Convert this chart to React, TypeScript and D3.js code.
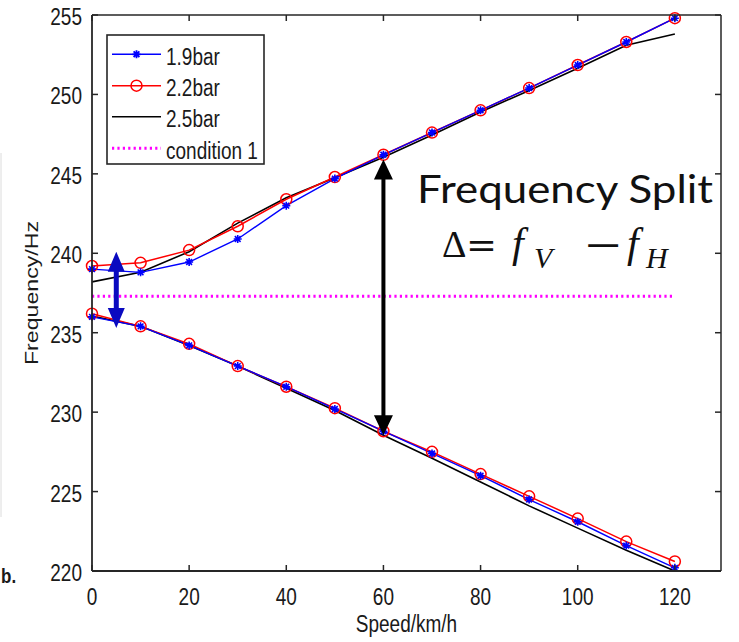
import React from "react";
import * as d3 from "d3";

const speeds = [0, 10, 20, 30, 40, 50, 60, 70, 80, 90, 100, 110, 120];
const upper19 = [239.0, 238.8, 239.45, 240.9, 243.0, 244.7, 246.2, 247.6, 249.0, 250.4, 251.85, 253.3, 254.8];
const upper22 = [239.2, 239.4, 240.2, 241.7, 243.4, 244.8, 246.2, 247.6, 249.0, 250.4, 251.85, 253.3, 254.8];
const upper25 = [238.2, 238.8, 240.1, 241.9, 243.5, 244.75, 246.05, 247.45, 248.9, 250.25, 251.65, 253.1, 253.8];
const lower19 = [236.0, 235.4, 234.2, 232.9, 231.6, 230.2, 228.8, 227.4, 226.0, 224.5, 223.1, 221.6, 220.2];
const lower22 = [236.2, 235.4, 234.3, 232.9, 231.6, 230.25, 228.8, 227.5, 226.1, 224.7, 223.3, 221.85, 220.6];
const lower25 = [236.05, 235.4, 234.2, 232.9, 231.5, 230.1, 228.55, 227.1, 225.6, 224.1, 222.7, 221.3, 220.0];
const conditionSpeeds = [0, 120];
const condition1 = [237.3, 237.3];

const xTicks = [0, 20, 40, 60, 80, 100, 120];
const yTicks = [220, 225, 230, 235, 240, 245, 250, 255];
const legendLabels = ["1.9bar", "2.2bar", "2.5bar", "condition 1"];

// annotation arrows (data coordinates)
const blueArrow = { speed: 5, from: 240.1, to: 235.3 };
const blackArrow = { speed: 60, from: 245.9, to: 228.55 };

const W = 739;
const H = 642;
const x = d3.scaleLinear().domain([0, 129.5]).range([92, 721]);
const y = d3.scaleLinear().domain([220, 255]).range([571, 15]);

const BLUE = "#0000ff";
const RED = "#ff0000";
const MAG = "#ff00ff";
const AX = "#262626";
const FONT = "'Liberation Sans', Arial, sans-serif";
const SY = 1.22;

type Pt = [number, number];
const zip = (xs: number[], ys: number[]): Pt[] => xs.map((s, i) => [s, ys[i]]);
const line = d3
  .line<Pt>()
  .x((d) => x(d[0]))
  .y((d) => y(d[1]));

function starPath(r: number) {
  const a = r * 0.72;
  return `M${-r},0L${r},0M0,${-r}L0,${r}M${-a},${-a}L${a},${a}M${-a},${a}L${a},${-a}`;
}

function DoubleArrow({ cx, y1, y2, shaft, headW, headL, color }: any) {
  const top = Math.min(y1, y2);
  const bot = Math.max(y1, y2);
  const p = [
    [cx, top],
    [cx + headW / 2, top + headL],
    [cx + shaft / 2, top + headL],
    [cx + shaft / 2, bot - headL],
    [cx + headW / 2, bot - headL],
    [cx, bot],
    [cx - headW / 2, bot - headL],
    [cx - shaft / 2, bot - headL],
    [cx - shaft / 2, top + headL],
    [cx - headW / 2, top + headL],
  ];
  return <polygon points={p.map((q) => q.join(",")).join(" ")} fill={color} />;
}

function STxt({ tx, ty, anchor = "start", size = 19, rot = 0, weight = "normal", children }: any) {
  return (
    <g transform={`translate(${tx},${ty}) scale(1,${SY})${rot ? ` rotate(${rot})` : ""}`}>
      <text x={0} y={0} fontSize={size} fontFamily={FONT} textAnchor={anchor} fontWeight={weight} fill="#1a1a1a">
        {children}
      </text>
    </g>
  );
}

export default function App() {
  const u19 = zip(speeds, upper19);
  const u22 = zip(speeds, upper22);
  const u25 = zip(speeds, upper25);
  const l19 = zip(speeds, lower19);
  const l22 = zip(speeds, lower22);
  const l25 = zip(speeds, lower25);
  const cond = zip(conditionSpeeds, condition1);
  const [x0, x1] = x.range();
  const [yb, yt] = y.range();
  const legY = [54.3, 85.7, 116.7, 148.3];

  return (
    <svg width={W} height={H} style={{ position: "absolute", left: 0, top: 0, background: "#fff" }}>
      <rect x={0} y={0} width={W} height={H} fill="#fff" />
      {/* faint crop line */}
      <line x1={1} x2={1} y1={153} y2={517} stroke="#dcdcdc" strokeWidth={1} />
      <STxt tx={1} ty={583} size={17} weight="bold">b.</STxt>

      {/* series */}
      <path d={line(u25) || ""} fill="none" stroke="#000" strokeWidth={1.6} />
      <path d={line(l25) || ""} fill="none" stroke="#000" strokeWidth={1.6} />
      <path d={line(u22) || ""} fill="none" stroke={RED} strokeWidth={1.5} />
      <path d={line(l22) || ""} fill="none" stroke={RED} strokeWidth={1.5} />
      <path d={line(u19) || ""} fill="none" stroke={BLUE} strokeWidth={1.4} />
      <path d={line(l19) || ""} fill="none" stroke={BLUE} strokeWidth={1.4} />
      {[...u22, ...l22].map((d, i) => (
        <circle key={"c" + i} cx={x(d[0])} cy={y(d[1])} r={5.5} fill="none" stroke={RED} strokeWidth={1.5} />
      ))}
      {[...u19, ...l19].map((d, i) => (
        <path key={"s" + i} d={starPath(4)} transform={`translate(${x(d[0])},${y(d[1])})`} stroke={BLUE} strokeWidth={1.6} fill="none" />
      ))}
      <path d={line(cond) || ""} fill="none" stroke={MAG} strokeWidth={3} strokeDasharray="2.2 3.2" />

      {/* axes box */}
      <line x1={x0} x2={x0} y1={yb} y2={yt} stroke={AX} strokeWidth={1.8} />
      <line x1={x1} x2={x1} y1={yb} y2={yt} stroke={AX} strokeWidth={1.5} />
      <line x1={x0} x2={x1} y1={yb} y2={yb} stroke={AX} strokeWidth={1.8} />
      <line x1={x0} x2={x1} y1={yt} y2={yt} stroke={AX} strokeWidth={1.5} />
      {xTicks.map((t) => (
        <g key={"xt" + t}>
          <line x1={x(t)} x2={x(t)} y1={yb} y2={yb - 6} stroke={AX} strokeWidth={1.5} />
          <line x1={x(t)} x2={x(t)} y1={yt} y2={yt + 6} stroke={AX} strokeWidth={1.5} />
          <STxt tx={x(t)} ty={605} anchor="middle">{String(t)}</STxt>
        </g>
      ))}
      {yTicks.map((t) => (
        <g key={"yt" + t}>
          <line x1={x0} x2={x0 + 6} y1={y(t)} y2={y(t)} stroke={AX} strokeWidth={1.5} />
          <line x1={x1} x2={x1 - 6} y1={y(t)} y2={y(t)} stroke={AX} strokeWidth={1.5} />
          <STxt tx={82} ty={y(t) + 10} anchor="end">{String(t)}</STxt>
        </g>
      ))}
      <STxt tx={(x0 + x1) / 2} ty={632} anchor="middle">Speed/km/h</STxt>
      <STxt tx={38} ty={(yb + yt) / 2} anchor="middle" rot={-90}>Frequency/Hz</STxt>

      {/* legend */}
      <rect x={107} y={35} width={157} height={129} fill="#fff" stroke={AX} strokeWidth={1.6} />
      {legendLabels.map((lab, i) => (
        <g key={lab}>
          {i === 3 ? (
            <line x1={112} x2={161} y1={legY[i]} y2={legY[i]} stroke={MAG} strokeWidth={3} strokeDasharray="2.2 3.2" />
          ) : (
            <line x1={112} x2={161} y1={legY[i]} y2={legY[i]} stroke={i === 0 ? BLUE : i === 1 ? RED : "#000"} strokeWidth={1.5} />
          )}
          {i === 0 && <path d={starPath(4)} transform={`translate(136.5,${legY[i]})`} stroke={BLUE} strokeWidth={1.8} fill="none" />}
          {i === 1 && <circle cx={136.5} cy={legY[i]} r={5.5} fill="none" stroke={RED} strokeWidth={1.5} />}
          <STxt tx={166} ty={legY[i] + 10.5}>{lab}</STxt>
        </g>
      ))}

      {/* annotations */}
      <DoubleArrow cx={x(blueArrow.speed)} y1={y(blueArrow.from)} y2={y(blueArrow.to)} shaft={5} headW={17} headL={20} color="#0a0ac0" />
      <DoubleArrow cx={x(blackArrow.speed)} y1={y(blackArrow.from)} y2={y(blackArrow.to)} shaft={4} headW={19} headL={20} color="#000" />
      <text x={417} y={203} fontSize={38} fontFamily="Lato, 'Open Sans', sans-serif" textLength={296} lengthAdjust="spacingAndGlyphs" fill="#111">
        Frequency Split
      </text>
      <g fill="#111">
        <text x={442} y={257} fontSize={38} fontFamily="'Liberation Serif', serif">Δ</text>
        <text x={466} y={257} fontSize={36} fontFamily="'DejaVu Serif', serif" textLength={31} lengthAdjust="spacingAndGlyphs">=</text>
        <text x={512} y={257} fontSize={42} fontFamily="'Liberation Serif', serif" fontStyle="italic">f</text>
        <text x={534} y={268} fontSize={30} fontFamily="'Liberation Serif', serif" fontStyle="italic">V</text>
        <text x={583} y={257} fontSize={36} fontFamily="'DejaVu Serif', serif" textLength={40} lengthAdjust="spacingAndGlyphs">−</text>
        <text x={627} y={257} fontSize={42} fontFamily="'Liberation Serif', serif" fontStyle="italic">f</text>
        <text x={646} y={268} fontSize={30} fontFamily="'Liberation Serif', serif" fontStyle="italic">H</text>
      </g>
    </svg>
  );
}
